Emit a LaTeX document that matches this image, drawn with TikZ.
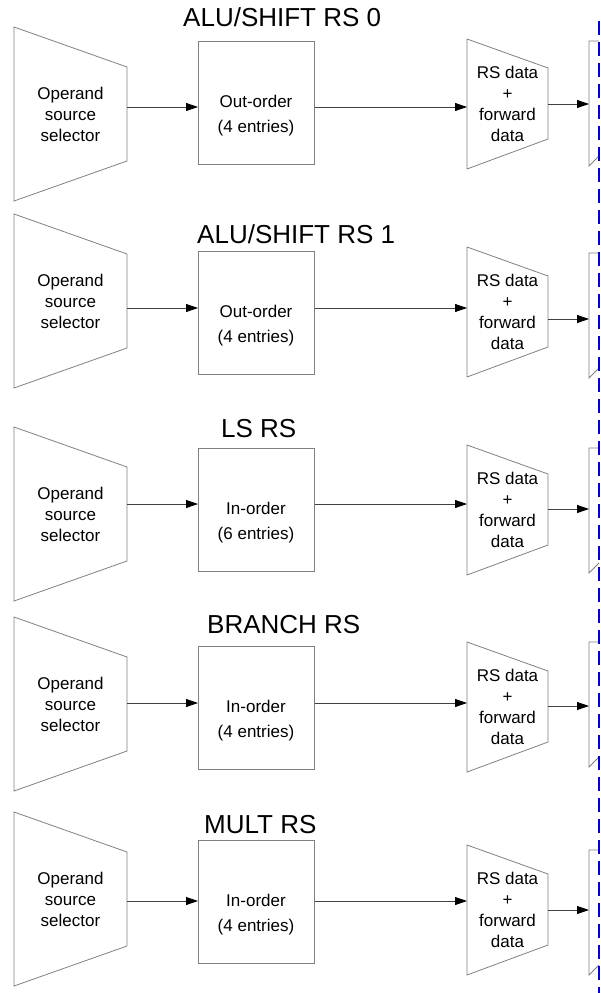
\documentclass[tikz,border=0pt]{standalone}
\usepackage{fontspec}
\setmainfont{Liberation Sans}
\usetikzlibrary{arrows.meta, calc}

\begin{document}
\begin{tikzpicture}[
    x=1pt, y=-1pt,
    blk/.style={draw=black!50, line width=0.8pt},
    queue/.style={rectangle, draw=black!50, line width=0.8pt, minimum width=116pt, minimum height=123pt, inner sep=0pt},
    lbl/.style={align=center, inner sep=0pt, font=\fontsize{17}{21}\selectfont},
    qlbl/.style={align=center, inner sep=0pt, font=\fontsize{17}{25}\selectfont},
    ttl/.style={anchor=base west, inner sep=0pt, font=\fontsize{26}{31}\selectfont},
    arr/.style={draw=black!75, line width=0.8pt, -{Triangle[length=12pt,width=8pt,color=black]}},
    bus/.style={draw=blue!85!black, line width=1.6pt, dash pattern=on 14pt off 7pt},
]
    \useasboundingbox (0,0) rectangle (600,993);
    % Rows
    \foreach \r/\sy/\by/\my/\qy/\ya/\yb/\tx/\ty/\rsname/\kind/\num in {
        0/27/41/39/41/107/104/183/27/{ALU/SHIFT RS 0}/Out/4,
        1/214/251/247/253/308/319/197/243/{ALU/SHIFT RS 1}/Out/4,
        2/427/448/445/448/504/509/221/437/{LS RS}/In/6,
        3/617/646/642/642/703/706/207/633/{BRANCH RS}/In/4,
        4/812/840/845/850/901/910/204/833/{MULT RS}/In/4} {
        % operand source selector
        \draw[blk] (14,\sy) -- (127,\sy+40) -- (127,\sy+134) -- (14,\sy+174) -- cycle;
        \node[lbl] (sel\r) at (70.5,\sy+87) {Operand\\source\\selector};
        % queue
        \node[queue, anchor=north west] (q\r) at (198,\by) {};
        \node[qlbl] (qt\r) at (256,\by+75) {\kind-order\\(\num\ entries)};
        \node[ttl] (t\r) at (\tx,\ty) {\rsname};
        % data mux
        \draw[blk] (467,\my) -- (548,\my+29) -- (548,\my+100) -- (467,\my+130) -- cycle;
        \node[lbl] (rs\r) at (507.5,\my+65) {RS data\\+\\forward\\data};
        % next stage (cut off)
        \draw[blk] (599,\qy) -- (589,\qy) -- (589,\qy+125) -- (599,\qy+115);
        \coordinate (selout\r) at (127,\ya);
        \coordinate (mxin\r) at (467,\ya);
        \coordinate (mxout\r) at (548,\yb);
        \coordinate (nx\r) at (589,\yb);
        \draw[arr] (selout\r) -- (selout\r -| q\r.west);
        \draw[arr] (selout\r -| q\r.east) -- (mxin\r);
        \draw[arr] (mxout\r) -- (nx\r);
    }
    % Stage boundary
    \coordinate (bustop) at (599,21);
    \coordinate (busbot) at (599,993);
    \draw[bus] (bustop) -- (busbot);
\end{tikzpicture}
\end{document}
